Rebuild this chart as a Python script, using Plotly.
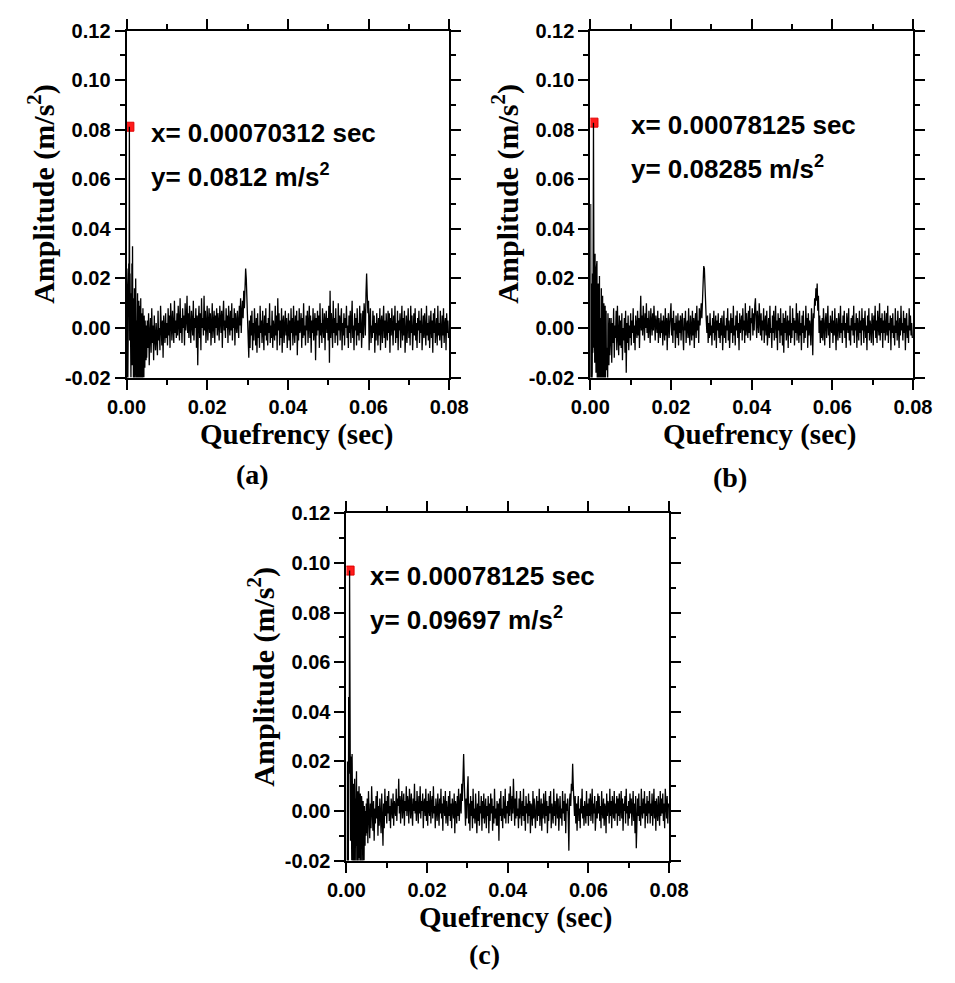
import numpy as np
import plotly.graph_objects as go

# Sampling interval of the cepstrum (s); the first 5 ms are kept at full
# resolution, the remainder every second sample.
DT = 0.000078125

# ---- (a) amplitudes in 1e-3 m/s^2 -------------------------------------
a_head = [-30, 24, -26, 14, -22, 20, -18, 26, 10,
          81.2,
          -5, 22, -12, 18, -20, 14, -8, 26, -15, 33, -6,
          12, -24, 8, -18, 16, -28, 5, -14, 20, -22, 10, -26, 3, -16, 14, -30, 7, -12, 11, -25,
          4, -18, 9, -27, 12, -10, -22, 6, -15, 2, -24, 8, -12, -4, -20, 5, -9, -16, 3, -11, -6, -13, 1]
a_tail = [
    -12, 3, -8, 6, -15, -2, 4, -10, 8, -6, 1, -13, 5, -4, -9, 2,
    -3, -11, 7, -5, 0, -9, 9, -2, -7, 3, -12, 5, -1, -6, 6, -4,
    2, -7, 8, -3, 5, -8, 10, -1, -5, 7, 0, -6, 11, -2, 3, -4,
    6, -3, 9, 1, -5, 12, -2, 4, -6, 8, 0, 5, -7, 10, -1, 3,
    13, -2, 6, -4, 9, 1, -6, 7, 2, -3, 11, -5, 4, 0, 8, -8,
    5, -15, 3, 9, -4, 6, -9, 12, 0, 4, -3, 13, -1, 7, -6, 2,
    9, -5, 4, 8, -2, 6, -7, 3, 10, -4, 1, 7, -6, 5, 0, 8,
    -3, 6, 2, -5, 9, 1, -2, 7, -8, 4, 11, -1, 3, -4, 8, 0,
    5, -6, 9, 2, -3, 7, -1, 10, -5, 4, 0, 8, -7, 6, 2, -2,
    7, 3, -4, 9, 1, 12, -2, 6, 11, 4, 15, 8, 17, 24, 20, 10,
    4, -6, -12, 3, -8, 5, -3, 7, -9, 2, -5, 8, -1, -7, 4, -10,
    6, -4, 1, -8, 9, -2, 3, -6, 7, 0, -9, 5, -3, 8, -5, 2,
    -7, 4, -2, 10, -6, 1, -4, 7, -8, 3, 0, -5, 9, -3, 5, -9,
    12, -1, 6, -7, 3, -4, 8, -10, 2, 5, -6, 0, 7, -3, 4, -8,
    1, 6, -5, 3, -9, 8, -2, 4, -7, 9, -1, -6, 5, -3, 7, -11,
    3, -5, 8, -2, 0, 6, -8, 4, -4, 10, -3, 1, -7, 5, -1, 7,
    -6, 2, 9, -4, 5, -10, 3, -2, 8, -5, 1, 6, -13, 4, -3, 7,
    -1, 5, -8, 10, -3, 2, -6, 8, 0, -4, 6, -9, 3, 7, -2, 4,
    -5, 9, -14, 15, -4, 6, 1, -8, 11, -2, 4, -6, 8, -3, 2, -7,
    10, -1, 5, -5, 3, 8, -9, 2, -3, 6, -7, 4, 0, 9, -4, 1,
    -8, 5, -2, 7, -6, 3, 11, -4, 1, -9, 6, -1, 4, -7, 8, -3,
    2, -5, 9, -2, 6, -8, 3, 7, -4, 10, 5, -3, 14, 22, 13, 6,
    11, -9, 3, 8, -6, 1, -4, 7, -2, 5, -10, 2, -5, 6, 0, -7,
    4, -3, 8, -9, 2, 5, -6, 1, 9, -4, 3, -8, 6, -1, -5, 7,
    -2, 6, -10, 4, -3, 8, 0, -7, 5, -1, 9, -6, 2, -4, 7, -9,
    3, -1, 6, -8, 1, 9, -5, 4, -3, 7, -10, 2, 5, -6, 0, 8,
    -4, 3, -7, 9, -2, 5, -9, 1, 6, -3, 8, -5, 2, -8, 4, -1,
    7, -6, 3, -2, 8, -9, 1, 5, -4, 6, -1, -7, 9, -3, 2, -5,
    5, -8, 0, 7, -4, 3, -10, 6, -2, 8, -6, 1, 4, -7, 9, -3,
    2, -5, 7, -1, -8, 5, -3, 8, -6, 1, 4, -9, 6, -2, 3, -4,
]

# ---- (b) --------------------------------------------------------------
b_head = [-28, 50, -20, 18, -25, 12, -18, 22, -10, 30,
          82.85,
          15, -8, 20, -14, 30, -6, 12, -18, 24, -10,
          27, -22, 9, -16, 18, -25, 6, -12, 21, -28, 11, -20, 4, -15, 16, -26, 8, -11, 13, -24,
          5, -19, 10, -23, 2, -13, 9, -21, -4, 7, -17, 3, -12, -8, -22, 6, -10, 1, -15, -5, 4, -11, -2]
b_tail = [
    -10, 4, -14, 2, -6, 8, -12, 1, -4, 7, -9, 9, -3, -11, 5, -7,
    3, -8, 6, -13, 0, -5, 4, -10, 7, -18, 2, -6, 5, -9, 1, -4,
    6, -7, 3, -2, 8, -6, 1, -9, 5, 0, -4, 7, -3, 4, -8, 2,
    13, -1, 5, -3, 9, 2, -5, 6, 0, 10, -2, 4, -4, 7, 1, -6,
    8, 3, -3, 6, -1, 9, 0, -5, 5, 2, -2, 7, -6, 4, 1, -4,
    6, -2, 3, -7, 5, 1, -5, 8, -3, 4, -9, 2, 6, -4, 0, 5,
    10, -3, 4, -6, 7, -1, 2, -8, 5, 0, -4, 6, -7, 3, -2, 5,
    -5, 2, 6, -3, -9, 4, -1, 7, -6, 1, 3, -4, 8, -2, -7, 5,
    0, -5, 7, -3, 4, -8, 2, 6, -4, 9, -1, 3, -6, 8, 1, 5,
    10, 4, 15, 22, 25, 24, 14, 8, 3, -2, 5, -6, 2, -4, 6, -3,
    1, -7, 4, -2, 7, -5, 0, 5, -8, 3, -1, 6, -4, 2, -6, 4,
    -3, 5, -9, 2, 7, -4, 1, -6, 4, -1, 8, -5, 3, -8, 0, 6,
    -2, 4, -6, 9, -3, 1, -7, 5, -1, 7, -4, 2, -9, 6, -2, 3,
    5, -5, 8, -1, 3, -6, 10, -3, 6, 0, -4, 7, -2, 9, -5, 4,
    2, 8, -3, 6, -1, 9, 12, 3, -4, 7, 1, -2, 10, 4, -3, 6,
    -5, 3, -1, 8, -6, 2, 5, -3, 7, -7, 1, 4, -4, 9, -2, 0,
    -8, 5, -2, 7, -5, 1, 9, -4, 3, -9, 6, -1, 4, -6, 8, -3,
    2, -7, 6, -10, 4, -2, 7, -5, 1, 5, -8, 3, -3, 9, -6, 2,
    -4, 8, -1, 4, -7, 3, -2, 10, -5, 6, 0, -6, 7, -3, 2, -9,
    5, -2, 7, -6, 1, -4, 9, -1, 4, -8, 6, -3, 3, 0, -7, 8,
    2, -11, 6, 4, 12, 9, 16, 11, 18, 7, 13, -2, 5, -6, 3, -4,
    4, -5, 8, -1, -7, 3, 6, -4, 1, 9, -3, 2, -8, 5, 0, -2,
    7, -6, 3, -3, 8, -1, -9, 4, 1, -5, 6, 0, -4, 9, -2, 2,
    -6, 5, -1, 7, -4, 2, -8, 6, 3, -2, 8, -5, 1, -7, 4, -1,
    5, -3, 9, -6, 2, -1, 6, -8, 4, 0, -5, 7, -2, 3, -7, 8,
    -1, 4, -6, 2, 7, -4, 1, -9, 5, -2, 8, -5, 3, 0, -6, 6,
    2, -7, 5, -1, 9, -4, 3, -6, 7, 1, -3, 10, -5, 4, -2, 6,
    -8, 3, -2, 7, -5, 0, 6, -3, 9, -6, 2, -1, 5, -9, 4, -2,
    6, -4, 1, -7, 8, -2, 3, -5, 7, 0, -8, 4, -3, 9, -1, 2,
    -5, 7, -2, 4, -9, 3, 6, -4, 1, -6, 8, -1, 5, -3, 2, -4,
]

# ---- (c) --------------------------------------------------------------
c_head = [-26, 12, -30, 20, -18, 8, -22, 46, 15, 28,
          96.97,
          10, 25, -12, 22, -6, 14, -20, 23, -9, 18,
          -24, 11, -15, 6, -27, 13, -8, -21, 5, -14, 9, 16, -23, 4, -17, 8, -28, 2, -12, 10,
          -19, 3, -25, 7, -11, -2, -22, 6, -16, 1, -9, -24, 4, -13, -5, -20, 2, -8, -14, 0, -6, -10, 3]
c_tail = [
    -9, 5, -13, 8, -4, -11, 3, -7, 10, -2, -8, 4, -12, 1, -5, 6,
    -3, 8, -10, 2, -6, 5, -1, -9, 7, -4, -14, 3, -7, 9, -2, 4,
    -5, 6, -1, 8, -4, 2, -7, 5, 0, -3, 7, -6, 4, 1, -2, 9,
    -4, 5, 2, 13, -1, 6, -5, 3, 8, -3, 1, 7, -6, 4, 0, 10,
    -2, 6, 3, -5, 9, 1, -3, 7, 2, -6, 5, 0, 11, -1, 4, -4,
    8, 2, -5, 6, -1, 10, -3, 4, 0, 7, -7, 3, 5, -2, 9, -4,
    4, -6, 7, 1, -2, 8, -5, 3, 6, -3, 10, -1, 2, -7, 5, 0,
    -4, 7, 2, -6, 5, -1, 9, -3, 3, -8, 6, 1, -2, 8, -5, 4,
    0, -6, 6, -2, 8, -4, 3, -7, 5, 1, -3, 7, -9, 4, 2, -5,
    6, -2, 9, -4, 3, 7, -1, 11, 4, 16, 23, 12, 3, -6, 5, -3,
    8, 14, -5, 3, -8, 6, -2, 4, -7, 9, -3, 1, -5, 7, -1, -9,
    3, -4, 8, -6, 2, -1, 6, -8, 4, -3, 7, -5, 0, 5, -7, 2,
    -2, 6, -9, 3, -4, 7, -1, 5, -8, 2, -5, 9, -3, 1, -6, 4,
    -6, 3, -12, 5, -2, 8, -4, 1, -7, 6, 0, -3, 9, -5, 2, -1,
    4, -5, 7, -2, 10, 3, -4, 6, -1, 13, 2, -6, 5, -3, 8, -2,
    1, -7, 5, -3, 8, 0, -6, 4, -2, 9, -4, 2, -8, 6, -1, 3,
    -5, 7, -2, 4, -9, 3, 1, -6, 8, -3, 5, -1, -7, 2, 6, -4,
    4, -2, 9, -6, 1, 5, -8, 3, -3, 7, 0, -5, 8, -2, 4, -9,
    2, -4, 6, -1, 8, -7, 3, 0, -5, 9, -2, 4, -6, 1, 7, -3,
    5, -8, 2, 6, -3, 1, -6, 8, -1, 4, -4, 7, -9, 3, 0, 5,
    -3, -16, 4, 7, 2, 11, 8, 19, 10, 5, -2, 6, -5, 3, -8, 2,
    6, -4, 1, -7, 5, -1, 9, -3, 2, -6, 4, 0, -5, 8, -2, 3,
    -6, 5, -2, 7, -4, 1, 9, -5, 3, -1, 6, -8, 2, 4, -3, 7,
    -1, 6, -4, 2, -7, 8, 0, -3, 5, -6, 3, 1, -9, 7, -2, 4,
    2, -5, 9, -2, 4, -7, 6, 1, -3, 8, -4, 3, -1, 6, -6, 5,
    -2, 7, -4, 1, 8, -3, 5, -8, 3, 0, 6, -5, 9, -1, 2, -6,
    4, -3, 7, -1, 5, -6, 2, 8, -4, 3, -9, 6, -15, 1, 5, -2,
    7, -4, 2, -6, 9, 0, -3, 5, -1, 8, -7, 3, -2, 6, -5, 4,
    -1, 8, -5, 3, -2, 7, -6, 1, 9, -3, 4, -8, 5, 0, -4, 6,
    2, -6, 8, -2, 5, -1, 7, -4, 3, -7, 9, 1, -3, 6, -5, 3,
]

# Peak readouts (s, m/s^2)
peak_x = [0.00070312, 0.00078125, 0.00078125]
peak_y = [0.0812, 0.08285, 0.09697]
peak_x_txt = ["0.00070312", "0.00078125", "0.00078125"]
peak_y_txt = ["0.0812", "0.08285", "0.09697"]
panel_tags = ["(a)", "(b)", "(c)"]

x_ticks = [0.0, 0.02, 0.04, 0.06, 0.08]
x_tick_text = ["0.00", "0.02", "0.04", "0.06", "0.08"]
y_ticks = [-0.02, 0.0, 0.02, 0.04, 0.06, 0.08, 0.10, 0.12]
y_tick_text = ["-0.02", "0.00", "0.02", "0.04", "0.06", "0.08", "0.10", "0.12"]

W, H = 955, 983

# plot-area boxes in pixels: (left, right, top, bottom)
boxes = [(112, 448, 20, 375), (595, 931, 20, 375), (341, 677, 514, 869)]

t_head = np.arange(len(a_head)) * DT
t_tail = len(a_head) * DT + np.arange(len(a_tail)) * 2 * DT
quef = np.concatenate([t_head, t_tail])

series = [np.array(a_head + a_tail) * 1e-3,
          np.array(b_head + b_tail) * 1e-3,
          np.array(c_head + c_tail) * 1e-3]


def px(x):
    return x / W


def py(y):
    return 1 - y / H


fig = go.Figure()

sans = "Liberation Sans, Arial, sans-serif"
serif = "Liberation Serif, Times New Roman, serif"
tick_font = dict(family=sans, size=20, color="black", weight="bold")

layout = dict(
    width=W, height=H,
    margin=dict(l=0, r=0, t=0, b=0),
    paper_bgcolor="white", plot_bgcolor="white",
    showlegend=False,
)
annotations = []

for k in range(3):
    sfx = "" if k == 0 else str(k + 1)
    xa, ya = "x" + sfx, "y" + sfx
    left, right, top, bottom = boxes[k]

    fig.add_trace(go.Scatter(
        x=[peak_x[k]], y=[peak_y[k]], xaxis=xa, yaxis=ya, mode="markers",
        marker=dict(symbol="square", size=9, color="#ff1a1a", line=dict(color="#e00000", width=1)),
        hoverinfo="skip"))
    fig.add_trace(go.Scatter(
        x=quef, y=series[k], xaxis=xa, yaxis=ya, mode="lines",
        line=dict(color="black", width=1.3)))

    common = dict(
        showgrid=False, zeroline=False, showline=True, linecolor="black", linewidth=2,
        mirror="ticks", ticks="outside", ticklen=10, tickwidth=2, tickcolor="black",
        tickfont=tick_font,
    )
    layout["xaxis" + sfx] = dict(
        common, domain=[px(left), px(right)], range=[0, 0.08],
        tickvals=x_ticks, ticktext=x_tick_text, anchor=ya,
        minor=dict(ticks="outside", ticklen=5, tickwidth=2, tickcolor="black", dtick=0.01, tick0=0),
    )
    layout["yaxis" + sfx] = dict(
        common, domain=[py(bottom), py(top)], range=[-0.02, 0.12],
        tickvals=y_ticks, ticktext=y_tick_text, anchor=xa,
        minor=dict(ticks="outside", ticklen=5, tickwidth=2, tickcolor="black", dtick=0.01, tick0=0),
    )

    # axis titles
    annotations.append(dict(
        text="<b>Quefrency (sec)</b>", xref="paper", yref="paper",
        x=px(left + 177), y=py(bottom + 58), xanchor="center", yanchor="middle",
        showarrow=False, font=dict(family=serif, size=29, color="black")))
    annotations.append(dict(
        text="<b>Amplitude (m/s<sup>2</sup>)</b>", xref="paper", yref="paper",
        x=px(left - 88), y=py(top + 167), xanchor="center", yanchor="middle", textangle=-90,
        showarrow=False, font=dict(family=serif, size=30, color="black")))
    # peak readout
    annotations.append(dict(
        text="<b>x= " + peak_x_txt[k] + " sec</b>", xref="paper", yref="paper",
        x=px(left + 23), y=py(top + 105), xanchor="left", yanchor="middle",
        showarrow=False, font=dict(family=sans, size=26, color="black")))
    annotations.append(dict(
        text="<b>y= " + peak_y_txt[k] + " m/s<sup>2</sup></b>", xref="paper", yref="paper",
        x=px(left + 23), y=py(top + 148), xanchor="left", yanchor="middle",
        showarrow=False, font=dict(family=sans, size=26, color="black")))

# per-panel placement of the peak readout
annotations[6]["x"] = px(595 + 40)
annotations[7]["x"] = px(595 + 40)
annotations[6]["y"] = py(20 + 97)
annotations[7]["y"] = py(20 + 140)
annotations[10]["x"] = px(341 + 22)
annotations[11]["x"] = px(341 + 22)
annotations[10]["y"] = py(578)
annotations[11]["y"] = py(621)

tag_pos = [(243, 474), (740, 477), (485, 965)]
for k in range(3):
    annotations.append(dict(
        text="<b>" + panel_tags[k] + "</b>", xref="paper", yref="paper",
        x=px(tag_pos[k][0]), y=py(tag_pos[k][1]), xanchor="center", yanchor="middle",
        showarrow=False, font=dict(family=serif, size=28, color="black")))

layout["annotations"] = annotations
fig.update_layout(**layout)

fig.write_html("out.html")
